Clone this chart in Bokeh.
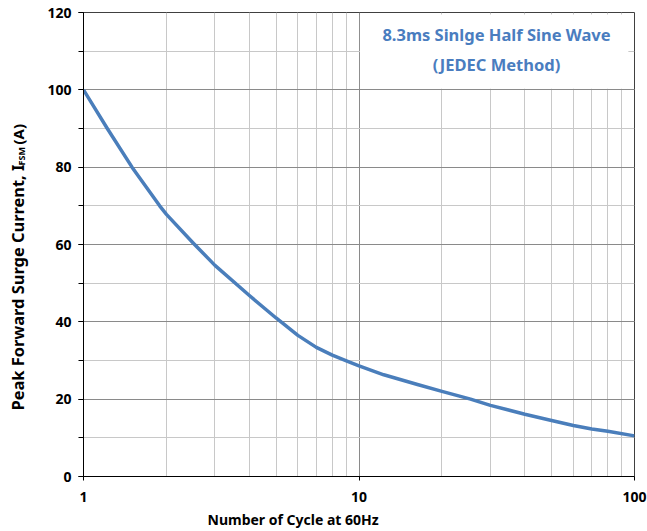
import math
from bokeh.plotting import figure
from bokeh.layouts import row
from bokeh.models import (Label, BoxAnnotation, SingleIntervalTicker, Range1d,
                          FixedTicker, Title)
from bokeh.embed import file_html
from bokeh.resources import INLINE

# ---- data ----
cycles = [1, 1.22, 1.5, 1.89, 2, 2.5, 3, 4, 5, 6, 7, 8, 9, 10, 12.3, 16.3, 20, 25.4,
          30, 40, 50, 60, 70, 80, 100]
ifsm = [100, 90, 80, 70, 67.8, 60.4, 54.6, 46.8, 41.0, 36.5, 33.4, 31.4, 29.9, 28.6,
        26.3, 23.8, 22.0, 20.0, 18.4, 16.1, 14.5, 13.2, 12.3, 11.7, 10.5]

y_ticks = [0, 20, 40, 60, 80, 100, 120]
x_ticks = [1, 10, 100]
x_minor = [2, 3, 4, 5, 6, 7, 8, 9, 20, 30, 40, 50, 60, 70, 80, 90]

title_lines = ["8.3ms Sinlge Half Sine Wave", "(JEDEC Method)"]
x_title = "Number of Cycle at 60Hz"
y_title_main = "Peak Forward Surge Current, I"
y_title_sub = "FSM"
y_title_end = "(A)"

LINE_BLUE = "#4a7ebb"
TITLE_BLUE = "#4a7dbf"
FONT = "Noto Sans"
H = 531

# ---- main chart ----
p = figure(width=607, height=H, x_axis_type="log",
           x_range=Range1d(1, 100), y_range=Range1d(0, 120),
           output_backend="svg", toolbar_location=None,
           min_border_left=43, min_border_right=13, min_border_top=12,
           min_border_bottom=55)
p.background_fill_color = "white"
p.border_fill_color = "white"
p.outline_line_color = "#404040"
p.outline_line_width = 1

p.xaxis.ticker = FixedTicker(ticks=x_ticks, minor_ticks=x_minor)
p.yaxis.ticker = SingleIntervalTicker(interval=20, num_minor_ticks=2)

for ax in (p.xaxis, p.yaxis):
    ax.axis_line_color = "black"
    ax.axis_line_width = 1
    ax.major_tick_line_color = "black"
    ax.minor_tick_line_color = "black"
    ax.major_tick_in = 0
    ax.minor_tick_in = 0
    ax.major_label_text_font = FONT
    ax.major_label_text_font_style = "bold"
    ax.major_label_text_font_size = "14px"
    ax.major_label_text_color = "black"

p.xaxis.major_tick_out = 4
p.xaxis.minor_tick_out = 0
p.xaxis.major_label_standoff = 11
p.xaxis.major_label_overrides = {1: "1", 10: "10", 100: "100"}
p.yaxis.major_tick_out = 5
p.yaxis.minor_tick_out = 5
p.yaxis.major_label_standoff = 7

p.xgrid.ticker = p.xaxis.ticker
p.ygrid.ticker = p.yaxis.ticker
for g in (p.xgrid, p.ygrid):
    g.grid_line_color = "#8a8a8a"
    g.grid_line_width = 1
    g.minor_grid_line_color = "#c8c8c8"
    g.minor_grid_line_width = 1

p.line(cycles, ifsm, line_color=LINE_BLUE, line_width=3.5, line_join="round")

# white note box
p.add_layout(BoxAnnotation(left=10.08, right=95, bottom=100.3, top=119.5,
                           fill_color="white", fill_alpha=1.0, line_color=None))
for txt, ys in zip(title_lines, [442, 412]):
    p.add_layout(Label(x=413, y=ys, x_units="screen", y_units="screen", text=txt,
                       text_align="center", text_baseline="middle",
                       text_font=FONT, text_font_style="bold",
                       text_font_size="16.5px", text_color=TITLE_BLUE))

# x title
p.add_layout(Title(text=x_title, align="left", offset=124, standoff=6,
                   text_font=FONT, text_font_style="bold",
                   text_font_size="14px", text_color="black"), "below")

# ---- left strip holding the rotated y title with subscript ----
q = figure(width=40, height=H, x_range=Range1d(0, 1), y_range=Range1d(0, 1),
           output_backend="svg", toolbar_location=None,
           min_border=0, x_axis_location=None, y_axis_location=None)
q.outline_line_color = None
q.grid.visible = False
q.background_fill_color = "white"
q.border_fill_color = "white"

ang = math.pi / 2
q.add_layout(Label(x=17, y=66, x_units="screen", y_units="screen", text=y_title_main,
                   angle=ang, text_align="left", text_baseline="middle",
                   text_font=FONT, text_font_style="bold",
                   text_font_size="16.4px", text_color="black"))
q.add_layout(Label(x=21, y=311, x_units="screen", y_units="screen", text=y_title_sub,
                   angle=ang, text_align="left", text_baseline="middle",
                   text_font=FONT, text_font_style="bold",
                   text_font_size="9px", text_color="black"))
q.add_layout(Label(x=17, y=332, x_units="screen", y_units="screen", text=y_title_end,
                   angle=ang, text_align="left", text_baseline="middle",
                   text_font=FONT, text_font_style="bold",
                   text_font_size="15px", text_color="black"))

layout = row(q, p, spacing=0)
open("out.html", "w").write(file_html(layout, INLINE))
